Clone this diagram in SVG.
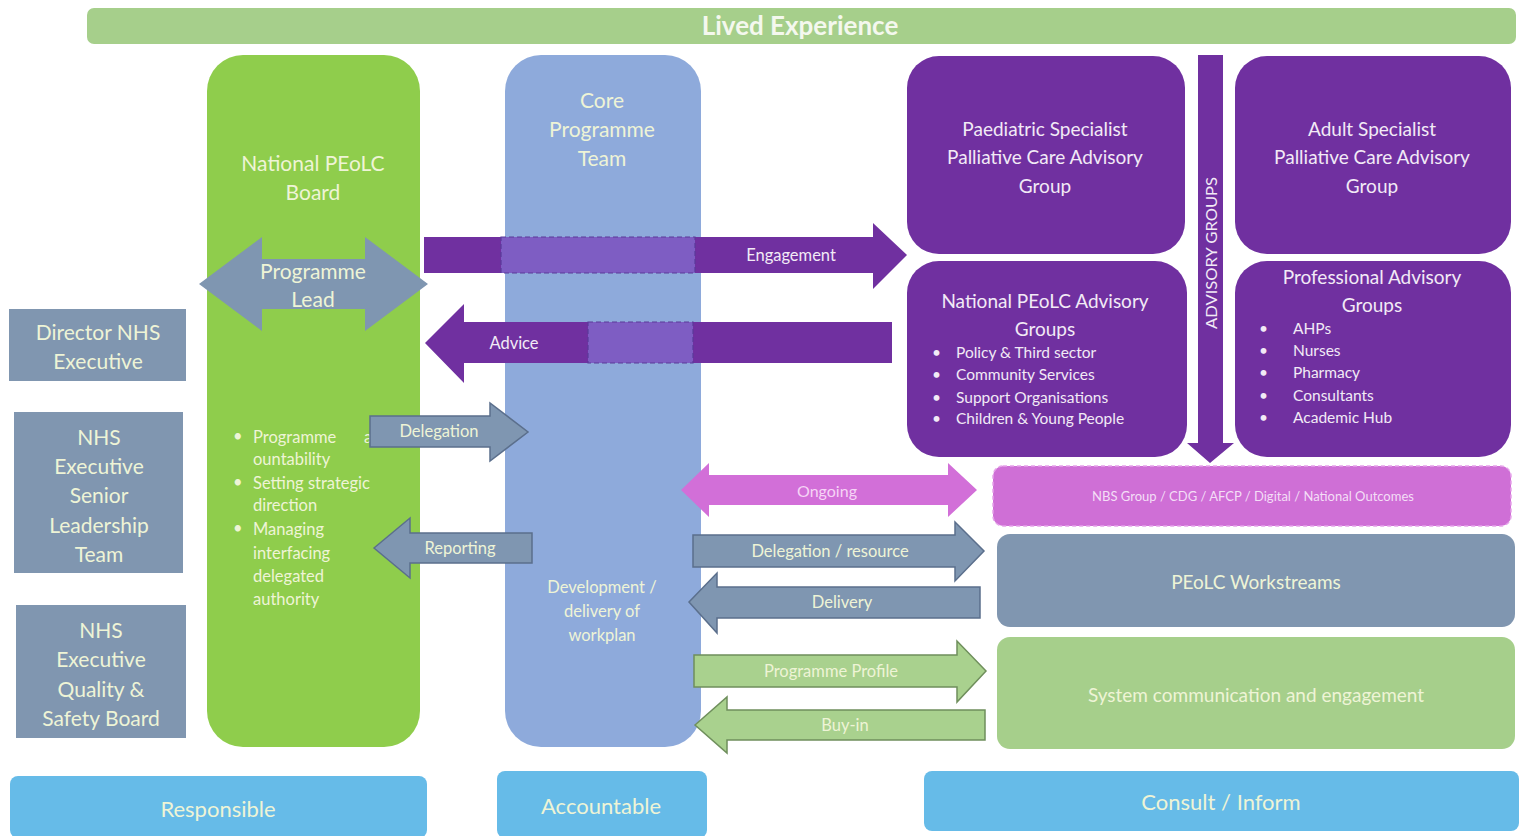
<svg xmlns="http://www.w3.org/2000/svg" width="1526" height="836" viewBox="0 0 1526 836">
<style>
text{font-family:Lato,"Open Sans","Liberation Sans",sans-serif;text-anchor:middle;dominant-baseline:central}
.lt{fill:#eef4d6}
.wt{fill:#f2eaf6}
.bl{text-anchor:start}
.grey{fill:#8096b0}
.purple{fill:#7030a0}
.green{fill:#a6cf8b}
.sky{fill:#66bbe8}
.arrG{fill:#7f96b1;stroke:#5b6f8c;stroke-width:1.5}
.arrL{fill:#a9d18e;stroke:#6f8f5c;stroke-width:1.5}
.dash{fill:#7e5dc3;stroke:#5a3a9a;stroke-width:1.2;stroke-dasharray:5 3}
</style>
<rect width="1526" height="836" fill="#ffffff"/>

<g id="lived-experience">
<rect x="87" y="8" width="1429" height="36" rx="7" class="green"/>
<text x="800" y="25" font-size="26" font-weight="bold" fill="#f4f8ee">Lived Experience</text>
</g>

<g id="national-board">
<rect x="207" y="55" width="213" height="692" rx="36" fill="#8fcd4c"/>
<text x="313" y="162" font-size="21" class="lt">National PEoLC</text>
<text x="313" y="191" font-size="21" class="lt">Board</text>
<g font-size="16.5" class="lt">
<text x="233" y="436" class="bl lt">•</text><text x="253" y="437" class="bl lt">Programme<tspan x="364">acc</tspan></text>
<text x="253" y="459" class="bl lt">ountability</text>
<text x="233" y="482" class="bl lt">•</text><text x="253" y="483" class="bl lt">Setting strategic</text>
<text x="253" y="505" class="bl lt">direction</text>
<text x="233" y="528" class="bl lt">•</text><text x="253" y="529" class="bl lt">Managing</text>
<text x="253" y="553" class="bl lt">interfacing</text>
<text x="253" y="576" class="bl lt">delegated</text>
<text x="253" y="599" class="bl lt">authority</text>
</g>
</g>

<g id="core-team">
<rect x="505" y="55" width="196" height="692" rx="36" fill="#8eaadb"/>
<text x="602" y="99" font-size="21" class="lt">Core</text>
<text x="602" y="128" font-size="21" class="lt">Programme</text>
<text x="602" y="157" font-size="21" class="lt">Team</text>
<text x="602" y="587" font-size="16.5" class="lt">Development /</text>
<text x="602" y="611" font-size="16.5" class="lt">delivery of</text>
<text x="602" y="635" font-size="16.5" class="lt">workplan</text>
</g>

<g id="programme-lead">
<polygon points="199,284 262,237 262,259 365,259 365,237 428,284 365,331 365,309 262,309 262,331" fill="#7f96b1"/>
<text x="313" y="270" font-size="21" class="lt">Programme</text>
<text x="313" y="298" font-size="21" class="lt">Lead</text>
</g>

<g id="director">
<rect x="9" y="309" width="177" height="72" class="grey"/>
<text x="98" y="331" font-size="21" class="lt">Director NHS</text>
<text x="98" y="360" font-size="21" class="lt">Executive</text>
</g>

<g id="senior-leadership">
<rect x="14" y="412" width="169" height="161" class="grey"/>
<text x="99" y="436" font-size="21" class="lt">NHS</text>
<text x="99" y="465" font-size="21" class="lt">Executive</text>
<text x="99" y="494" font-size="21" class="lt">Senior</text>
<text x="99" y="524" font-size="21" class="lt">Leadership</text>
<text x="99" y="553" font-size="21" class="lt">Team</text>
</g>

<g id="quality-safety">
<rect x="16" y="605" width="170" height="133" class="grey"/>
<text x="101" y="629" font-size="21" class="lt">NHS</text>
<text x="101" y="658" font-size="21" class="lt">Executive</text>
<text x="101" y="688" font-size="21" class="lt">Quality &amp;</text>
<text x="101" y="717" font-size="21" class="lt">Safety Board</text>
</g>

<g id="paediatric">
<rect x="907" y="56" width="278" height="198" rx="32" class="purple"/>
<text x="1045" y="128" font-size="19" class="wt">Paediatric Specialist</text>
<text x="1045" y="156" font-size="19" class="wt">Palliative Care Advisory</text>
<text x="1045" y="185" font-size="19" class="wt">Group</text>
</g>

<g id="adult">
<rect x="1235" y="56" width="276" height="198" rx="32" class="purple"/>
<text x="1372" y="128" font-size="19" class="wt">Adult Specialist</text>
<text x="1372" y="156" font-size="19" class="wt">Palliative Care Advisory</text>
<text x="1372" y="185" font-size="19" class="wt">Group</text>
</g>

<g id="national-advisory">
<rect x="907" y="261" width="280" height="196" rx="32" class="purple"/>
<text x="1045" y="300" font-size="19" class="wt">National PEoLC Advisory</text>
<text x="1045" y="328" font-size="19" class="wt">Groups</text>
<g font-size="15.5">
<text x="932" y="352" class="bl wt">•</text><text x="956" y="352" class="bl wt">Policy &amp; Third sector</text>
<text x="932" y="374" class="bl wt">•</text><text x="956" y="374" class="bl wt">Community Services</text>
<text x="932" y="397" class="bl wt">•</text><text x="956" y="397" class="bl wt">Support Organisations</text>
<text x="932" y="418" class="bl wt">•</text><text x="956" y="418" class="bl wt">Children &amp; Young People</text>
</g>
</g>

<g id="professional-advisory">
<rect x="1235" y="261" width="276" height="196" rx="32" class="purple"/>
<text x="1372" y="276" font-size="19" class="wt">Professional Advisory</text>
<text x="1372" y="304" font-size="19" class="wt">Groups</text>
<g font-size="15.5">
<text x="1259" y="328" class="bl wt">•</text><text x="1293" y="328" class="bl wt">AHPs</text>
<text x="1259" y="350" class="bl wt">•</text><text x="1293" y="350" class="bl wt">Nurses</text>
<text x="1259" y="372" class="bl wt">•</text><text x="1293" y="372" class="bl wt">Pharmacy</text>
<text x="1259" y="395" class="bl wt">•</text><text x="1293" y="395" class="bl wt">Consultants</text>
<text x="1259" y="417" class="bl wt">•</text><text x="1293" y="417" class="bl wt">Academic Hub</text>
</g>
</g>

<g id="nbs-group">
<rect x="993" y="466" width="518" height="60" rx="10" fill="#cf6fd6" stroke="#e6a3ea" stroke-width="1.5" stroke-dasharray="4 3"/>
<text x="1253" y="496" font-size="13" fill="#f4def6">NBS Group / CDG / AFCP / Digital / National Outcomes</text>
</g>

<g id="workstreams">
<rect x="997" y="534" width="518" height="93" rx="13" class="grey"/>
<text x="1256" y="581" font-size="19" class="lt">PEoLC Workstreams</text>
</g>

<g id="system-comms">
<rect x="997" y="637" width="518" height="112" rx="13" class="green"/>
<text x="1256" y="694" font-size="19" class="lt">System communication and engagement</text>
</g>

<g id="responsible">
<rect x="10" y="776" width="417" height="62" rx="8" class="sky"/>
<text x="218" y="808" font-size="22" class="lt">Responsible</text>
</g>
<g id="accountable">
<rect x="497" y="771" width="210" height="67" rx="8" class="sky"/>
<text x="601" y="805" font-size="22" class="lt">Accountable</text>
</g>
<g id="consult-inform">
<rect x="924" y="771" width="595" height="60" rx="8" class="sky"/>
<text x="1221" y="801" font-size="22" class="lt">Consult / Inform</text>
</g>

<g id="connectors">
<g id="engagement">
<polygon points="424,237 873,237 873,223 907,255 873,289 873,273 424,273" class="purple"/>
<rect x="501" y="237" width="194" height="36" class="dash"/>
<text x="791" y="255" font-size="16.5" class="wt">Engagement</text>
</g>
<g id="advice">
<polygon points="425,343 464,304 464,322 892,322 892,363 464,363 464,383" class="purple"/>
<rect x="588" y="322" width="105" height="41" class="dash"/>
<text x="514" y="343" font-size="16.5" class="wt">Advice</text>
</g>
<g id="advisory-groups">
<polygon points="1198,55 1223,55 1223,443 1234,443 1210,463 1187,443 1198,443" class="purple"/>
<text x="0" y="0" font-size="15" fill="#f2eaf6" textLength="152" lengthAdjust="spacingAndGlyphs" transform="translate(1211,253) rotate(-90)">ADVISORY GROUPS</text>
</g>
<g id="delegation">
<polygon points="370,416 490,416 490,403 528,432 490,461 490,447 370,447" class="arrG"/>
<text x="439" y="431" font-size="16.5" class="lt">Delegation</text>
</g>
<g id="reporting">
<polygon points="374,548 410,518 410,533 532,533 532,563 410,563 410,578" class="arrG"/>
<text x="460" y="548" font-size="16.5" class="lt">Reporting</text>
</g>
<g id="ongoing">
<polygon points="681,490 709,463 709,475 948,475 948,463 977,490 948,517 948,505 709,505 709,517" fill="#d26fd8"/>
<text x="827" y="490" font-size="16" fill="#f6d4f6">Ongoing</text>
</g>
<g id="delegation-resource">
<polygon points="693,535 955,535 955,522 984,551 955,581 955,567 693,567" class="arrG"/>
<text x="830" y="551" font-size="16.5" class="lt">Delegation / resource</text>
</g>
<g id="delivery">
<polygon points="689,602 717,573 717,587 980,587 980,618 717,618 717,633" class="arrG"/>
<text x="842" y="602" font-size="16.5" class="lt">Delivery</text>
</g>
<g id="programme-profile">
<polygon points="694,655 957,655 957,641 986,671 957,702 957,687 694,687" class="arrL"/>
<text x="831" y="671" font-size="16.5" class="lt">Programme Profile</text>
</g>
<g id="buy-in">
<polygon points="695,725 727,697 727,710 985,710 985,740 727,740 727,753" class="arrL"/>
<text x="845" y="725" font-size="16.5" class="lt">Buy-in</text>
</g>
</g>
</svg>
